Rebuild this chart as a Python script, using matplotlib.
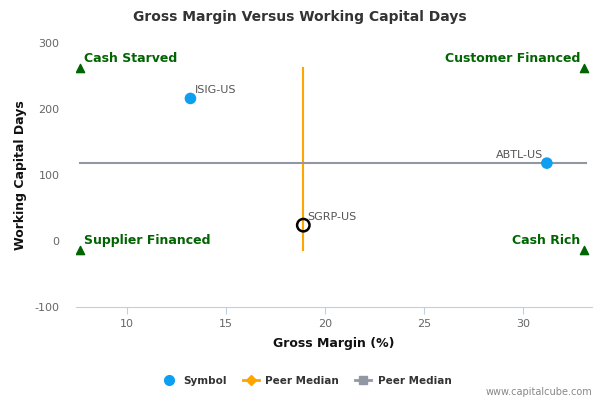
import matplotlib
matplotlib.use("Agg")
import matplotlib.pyplot as plt
from matplotlib.lines import Line2D

plt.rcParams["axes.unicode_minus"] = False

symbols = ["ISIG-US", "ABTL-US"]
sym_x = [13.2, 31.2]
sym_y = [216, 118]
peer_name = "SGRP-US"
peer_x = 18.9
peer_y = 24
median_x = 18.9
median_y = 118
median_x_range = [-14, 262]
median_y_range = [7.6, 33.2]
quad_labels = ["Cash Starved", "Customer Financed", "Supplier Financed", "Cash Rich"]
quad_x = [7.6, 33.1, 7.6, 33.1]
quad_y = [262, 262, -14, -14]
xticks = [10, 15, 20, 25, 30]
yticks = [-100, 0, 100, 200, 300]

fig = plt.figure(figsize=(6, 4), dpi=100)
ax = fig.add_axes([76/600, 1-307/400, (592-76)/600, (307-43)/400])
ax.set_xlim(7.42, 33.48)
ax.set_ylim(-100, 300)

green = "#006400"
ax.plot([median_x, median_x], median_x_range, color="#FFA500", lw=1.5, zorder=2)
ax.plot(median_y_range, [median_y, median_y], color="#9198A3", lw=1.5, zorder=2)
ax.scatter(sym_x, sym_y, s=70, color="#0DA0F0", zorder=3, edgecolors="none")
ax.scatter([peer_x], [peer_y], s=80, facecolors="none", edgecolors="black", linewidths=1.8, zorder=4)
ax.scatter(quad_x, quad_y, marker="^", s=35, color=green, zorder=3)

lab_col = "#555555"
ax.annotate(symbols[0], (sym_x[0], sym_y[0]), xytext=(3, 4), textcoords="offset points", fontsize=8, color=lab_col)
ax.annotate(symbols[1], (sym_x[1], sym_y[1]), xytext=(-3, 4), textcoords="offset points", fontsize=8, color=lab_col, ha="right")
ax.annotate(peer_name, (peer_x, peer_y), xytext=(3, 4), textcoords="offset points", fontsize=8, color=lab_col)

for i, t in enumerate(quad_labels):
    ha = "left" if i % 2 == 0 else "right"
    dx = 3 if i % 2 == 0 else -3
    ax.annotate(t, (quad_x[i], quad_y[i]), xytext=(dx, 2), textcoords="offset points",
                fontsize=9, fontweight="bold", color=green, ha=ha, va="bottom")

for s in ["top", "right", "left"]:
    ax.spines[s].set_visible(False)
ax.spines["bottom"].set_color("#C0D0E0")
ax.set_xticks(xticks)
ax.set_yticks(yticks)
ax.tick_params(axis="x", colors="#C0D0E0", labelcolor="#666666", labelsize=8, length=5, direction="out")
ax.tick_params(axis="y", length=0, labelcolor="#666666", labelsize=8, pad=12)
ax.set_xlabel("Gross Margin (%)", fontsize=9, fontweight="bold", color="#111111", labelpad=6)
ax.set_ylabel("Working Capital Days", fontsize=9, fontweight="bold", color="#111111", labelpad=5)
fig.text(0.5, 1-17/400, "Gross Margin Versus Working Capital Days", ha="center", va="center",
         fontsize=10, fontweight="bold", color="#333333")

handles = [
    Line2D([], [], marker="o", ls="none", color="#0DA0F0", markersize=7),
    Line2D([], [], marker="D", color="#FFA500", markersize=5, lw=2),
    Line2D([], [], marker="s", color="#9198A3", markersize=6, lw=2),
]
leg = fig.legend(handles, ["Symbol", "Peer Median", "Peer Median"], loc="center",
                 bbox_to_anchor=(0.51, 1-381/400), ncol=3, frameon=False,
                 prop={"size": 7.5, "weight": "bold"}, handlelength=1.6, columnspacing=1.5, handletextpad=0.6)
for t in leg.get_texts():
    t.set_color("#333333")
fig.text(0.987, 1-392/400, "www.capitalcube.com", ha="right", va="center", fontsize=7, color="#888888")

fig.savefig("out.png", dpi=100)
